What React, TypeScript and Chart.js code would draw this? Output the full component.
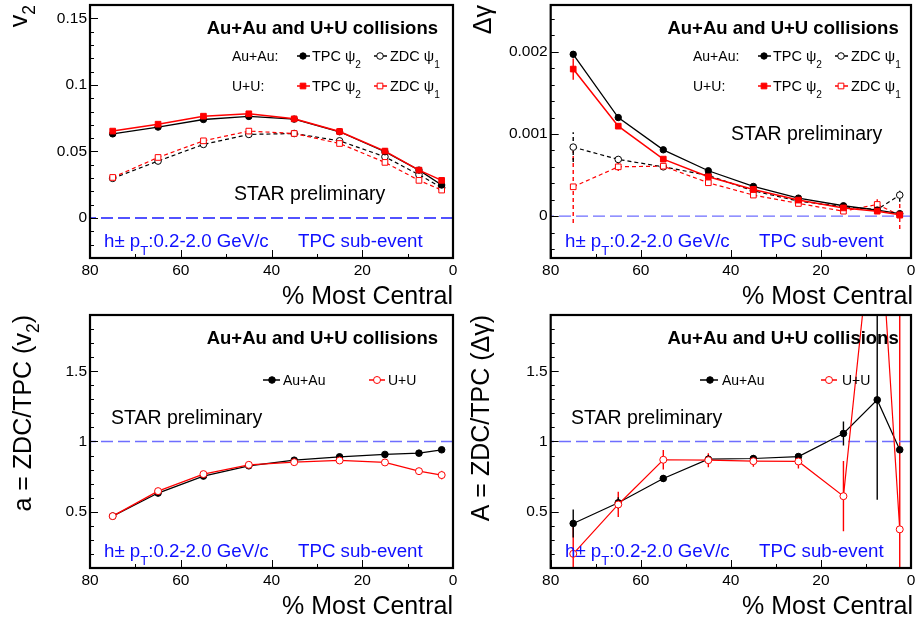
import { useEffect, useRef } from "react";
import { Chart, registerables } from "chart.js";

Chart.register(...registerables);

const FONT = "'Liberation Sans', Arial, Helvetica, sans-serif";

// ---------------- data ----------------
const centrality = [75, 65, 55, 45, 35, 25, 15, 7.5, 2.5];
const xTicks = [0, 20, 40, 60, 80];
const xTickLabels = ["0", "20", "40", "60", "80"];
const xMinorTicks = [10, 30, 50, 70];

// v2
const v2AuTPC = [0.0632, 0.0683, 0.074, 0.0763, 0.0743, 0.0648, 0.0498, 0.036, 0.0248];
const v2UTPC = [0.0653, 0.0705, 0.0765, 0.0783, 0.0745, 0.065, 0.0503, 0.036, 0.0283];
const v2AuZDC = [0.0298, 0.0428, 0.0553, 0.0628, 0.0635, 0.058, 0.046, 0.0325, 0.0228];
const v2UZDC = [0.0305, 0.0455, 0.058, 0.0653, 0.0635, 0.056, 0.0418, 0.0283, 0.021];
const v2AuTPCErr = [0.0003, 0.0003, 0.0003, 0.0003, 0.0003, 0.0003, 0.0003, 0.0003, 0.0003];
const v2UTPCErr = [0.0004, 0.0004, 0.0004, 0.0004, 0.0004, 0.0004, 0.0004, 0.0004, 0.0004];
const v2AuZDCErr = [0.0006, 0.0006, 0.0005, 0.0005, 0.0005, 0.0005, 0.0005, 0.0006, 0.0008];
const v2UZDCErr = [0.0007, 0.0007, 0.0006, 0.0006, 0.0006, 0.0006, 0.0006, 0.0008, 0.001];
const v2Ticks = [0, 0.05, 0.1, 0.15];
const v2TickLabels = ["0", "0.05", "0.1", "0.15"];

// delta gamma
const dgAuTPC = [0.00197, 0.0012, 0.000807, 0.000552, 0.000361, 0.000219, 0.000126, 0.000073, 0.00003];
const dgUTPC = [0.00179, 0.001095, 0.000694, 0.000479, 0.000325, 0.000195, 0.0001, 0.00006, 0.000016];
const dgAuZDC = [0.00084, 0.00069, 0.0006, 0.000495, 0.000308, 0.000183, 0.000114, 0.00008, 0.000256];
const dgUZDC = [0.000357, 0.0006, 0.000608, 0.000406, 0.000256, 0.000154, 0.00006, 0.000142, 0.000012];
const dgAuTPCErr = [0.00004, 0.00002, 0.00001, 0.00001, 0.00001, 0.00001, 0.00001, 0.00001, 0.00002];
const dgUTPCErr = [0.00013, 0.00003, 0.00002, 0.00002, 0.00001, 0.00001, 0.00001, 0.00002, 0.00003];
const dgAuZDCErr = [0.00018, 0.00004, 0.00002, 0.00002, 0.00002, 0.00002, 0.00002, 0.00003, 0.00008];
const dgUZDCErr = [0.00044, 0.00005, 0.00002, 0.00002, 0.00002, 0.00002, 0.00002, 0.00007, 0.00017];
const dgTicks = [0, 0.001, 0.002];
const dgTickLabels = ["0", "0.001", "0.002"];

// a = ZDC/TPC (v2)
const aAu = [0.469, 0.633, 0.754, 0.827, 0.867, 0.891, 0.908, 0.917, 0.941];
const aU = [0.469, 0.647, 0.768, 0.834, 0.853, 0.865, 0.851, 0.789, 0.761];
const aAuErr = [0.008, 0.008, 0.006, 0.005, 0.005, 0.005, 0.006, 0.008, 0.01];
const aUErr = [0.01, 0.01, 0.008, 0.007, 0.007, 0.008, 0.01, 0.015, 0.03];

// A = ZDC/TPC (delta gamma)
const bigAAu = [0.417, 0.564, 0.737, 0.874, 0.879, 0.893, 1.057, 1.296, 0.941];
const bigAU = [0.201, 0.552, 0.87, 0.867, 0.86, 0.858, 0.611, 2.9, 0.375];
const bigAAuErr = [0.1, 0.04, 0.025, 0.03, 0.025, 0.02, 0.085, 0.71, 0.01];
const bigAUErr = [0.22, 0.09, 0.07, 0.05, 0.04, 0.05, 0.25, 0.8, 2.2];

const ratioTicks = [0.5, 1, 1.5];
const ratioTickLabels = ["0.5", "1", "1.5"];

// ---------------- styles ----------------
type Shape = "circle" | "rect";
interface SeriesStyle {
  color: string;
  filled: boolean;
  shape: Shape;
  dashed: boolean;
  width: number;
  radius: number;
}
const RED = "#ff0000";
const BLACK = "#000000";
const DASH = [4, 3];
const styleAuTPC: SeriesStyle = { color: BLACK, filled: true, shape: "circle", dashed: false, width: 1.3, radius: 3.2 };
const styleUTPC: SeriesStyle = { color: RED, filled: true, shape: "rect", dashed: false, width: 1.5, radius: 4 };
const styleAuZDC: SeriesStyle = { color: BLACK, filled: false, shape: "circle", dashed: true, width: 1.2, radius: 3.3 };
const styleUZDC: SeriesStyle = { color: RED, filled: false, shape: "rect", dashed: true, width: 1.2, radius: 4 };
const styleAuRatio: SeriesStyle = { color: BLACK, filled: true, shape: "circle", dashed: false, width: 1.2, radius: 3.3 };
const styleURatio: SeriesStyle = { color: RED, filled: false, shape: "circle", dashed: false, width: 1.2, radius: 3.5 };

interface Part {
  t: string;
  sub?: boolean;
}
interface TextItem {
  parts: Part[];
  x: number;
  y: number;
  size: number;
  color: string;
  bold?: boolean;
  align: "left" | "right";
  subDy?: number;
}
interface LegendItem {
  x1: number;
  x2: number;
  mx: number;
  y: number;
  style: SeriesStyle;
}
interface SeriesDef {
  values: number[];
  errors: number[];
  style: SeriesStyle;
}
interface PanelCfg {
  left: number;
  top: number;
  axisWidth: number;
  padRight: number;
  yMin: number;
  yMax: number;
  yTicks: number[];
  yTickLabels: string[];
  yMinor: number;
  refY: number;
  refColor: string;
  series: SeriesDef[];
  texts: TextItem[];
  legend: LegendItem[];
  yTitle: Part[];
  yTitleX: number;
  yTitleSize: number;
  yTitleSubDy: number;
}

const W = 458;
const H = 310;
const BLUE = "#1010ff";

function topLegendTexts(o: number): TextItem[] {
  // o: offset adjustments for right panels
  return [
    { parts: [{ t: "Au+Au:" }], x: 232 + o, y: 61, size: 14, color: BLACK, align: "left" },
    { parts: [{ t: "U+U:" }], x: 232 + o, y: 91, size: 14, color: BLACK, align: "left" },
    { parts: [{ t: "TPC ψ" }, { t: "2", sub: true }], x: 312 + o, y: 61, size: 14.5, color: BLACK, align: "left", subDy: 0.5 },
    { parts: [{ t: "ZDC ψ" }, { t: "1", sub: true }], x: 390 + o, y: 61, size: 14.5, color: BLACK, align: "left", subDy: 0.5 },
    { parts: [{ t: "TPC ψ" }, { t: "2", sub: true }], x: 312 + o, y: 91, size: 14.5, color: BLACK, align: "left", subDy: 0.5 },
    { parts: [{ t: "ZDC ψ" }, { t: "1", sub: true }], x: 390 + o, y: 91, size: 14.5, color: BLACK, align: "left", subDy: 0.5 },
  ];
}
function topLegend(o: number): LegendItem[] {
  return [
    { x1: 297 + o, x2: 310 + o, mx: 303 + o, y: 56, style: styleAuTPC },
    { x1: 374 + o, x2: 387 + o, mx: 380 + o, y: 56, style: styleAuZDC },
    { x1: 297 + o, x2: 310 + o, mx: 303 + o, y: 86, style: styleUTPC },
    { x1: 374 + o, x2: 387 + o, mx: 380 + o, y: 86, style: styleUZDC },
  ];
}
function commonTexts(o: number, titleRight: number): TextItem[] {
  return [
    { parts: [{ t: "Au+Au and U+U collisions" }], x: titleRight, y: 33.5, size: 18.5, color: BLACK, bold: true, align: "right" },
    { parts: [{ t: "h± p" }, { t: "T", sub: true }, { t: ":0.2-2.0 GeV/c" }], x: 104 + o, y: 246.5, size: 18.7, color: BLUE, align: "left", subDy: 0.48 },
    { parts: [{ t: "TPC sub-event" }], x: 298 + o, y: 246.5, size: 18.7, color: BLUE, align: "left" },
  ];
}
function xTitle(right: number): TextItem {
  return { parts: [{ t: "% Most Central" }], x: right, y: 304, size: 25, color: BLACK, align: "right" };
}

const panels: PanelCfg[] = [
  {
    left: 0,
    top: 0,
    axisWidth: 90,
    padRight: 5,
    yMin: -0.03,
    yMax: 0.16,
    yTicks: v2Ticks,
    yTickLabels: v2TickLabels,
    yMinor: 0.01,
    refY: 0,
    refColor: "#1a1aff",
    series: [
      { values: v2UTPC, errors: v2UTPCErr, style: styleUTPC },
      { values: v2AuTPC, errors: v2AuTPCErr, style: styleAuTPC },
      { values: v2UZDC, errors: v2UZDCErr, style: styleUZDC },
      { values: v2AuZDC, errors: v2AuZDCErr, style: styleAuZDC },
    ],
    texts: [
      ...commonTexts(0, 438),
      ...topLegendTexts(0),
      { parts: [{ t: "STAR preliminary" }], x: 234, y: 200, size: 19.5, color: BLACK, align: "left" },
      xTitle(453),
    ],
    legend: topLegend(0),
    yTitle: [{ t: "v" }, { t: "2", sub: true }],
    yTitleX: 27,
    yTitleSize: 25,
    yTitleSubDy: 0.32,
  },
  {
    left: 458,
    top: 0,
    axisWidth: 92.7,
    padRight: 3,
    yMin: -0.00051,
    yMax: 0.00257,
    yTicks: dgTicks,
    yTickLabels: dgTickLabels,
    yMinor: 0.0002,
    refY: 0,
    refColor: "#6e6eff",
    series: [
      { values: dgUTPC, errors: dgUTPCErr, style: styleUTPC },
      { values: dgAuTPC, errors: dgAuTPCErr, style: styleAuTPC },
      { values: dgUZDC, errors: dgUZDCErr, style: styleUZDC },
      { values: dgAuZDC, errors: dgAuZDCErr, style: styleAuZDC },
    ],
    texts: [
      ...commonTexts(3, 440.7),
      ...topLegendTexts(3),
      { parts: [{ t: "STAR preliminary" }], x: 273, y: 140, size: 19.5, color: BLACK, align: "left" },
      xTitle(455),
    ],
    legend: topLegend(3),
    yTitle: [{ t: "Δγ" }],
    yTitleX: 33,
    yTitleSize: 25,
    yTitleSubDy: 0.32,
  },
  {
    left: 0,
    top: 310,
    axisWidth: 90,
    padRight: 5,
    yMin: 0.1,
    yMax: 1.9,
    yTicks: ratioTicks,
    yTickLabels: ratioTickLabels,
    yMinor: 0.1,
    refY: 1,
    refColor: "#6e6eff",
    series: [
      { values: aU, errors: aUErr, style: styleURatio },
      { values: aAu, errors: aAuErr, style: styleAuRatio },
    ],
    texts: [
      ...commonTexts(0, 438),
      { parts: [{ t: "Au+Au" }], x: 283, y: 75, size: 14, color: BLACK, align: "left" },
      { parts: [{ t: "U+U" }], x: 388, y: 75, size: 14, color: BLACK, align: "left" },
      { parts: [{ t: "STAR preliminary" }], x: 111, y: 114, size: 19.5, color: BLACK, align: "left" },
      xTitle(453),
    ],
    legend: [
      { x1: 263, x2: 280, mx: 272, y: 70, style: styleAuRatio },
      { x1: 369, x2: 385, mx: 377, y: 70, style: styleURatio },
    ],
    yTitle: [{ t: "a = ZDC/TPC (v" }, { t: "2", sub: true }, { t: ")" }],
    yTitleX: 31,
    yTitleSize: 25,
    yTitleSubDy: 0.3,
  },
  {
    left: 458,
    top: 310,
    axisWidth: 92.7,
    padRight: 3,
    yMin: 0.1,
    yMax: 1.9,
    yTicks: ratioTicks,
    yTickLabels: ratioTickLabels,
    yMinor: 0.1,
    refY: 1,
    refColor: "#6e6eff",
    series: [
      { values: bigAU, errors: bigAUErr, style: styleURatio },
      { values: bigAAu, errors: bigAAuErr, style: styleAuRatio },
    ],
    texts: [
      ...commonTexts(3, 440.7),
      { parts: [{ t: "Au+Au" }], x: 264, y: 75, size: 14, color: BLACK, align: "left" },
      { parts: [{ t: "U+U" }], x: 384, y: 75, size: 14, color: BLACK, align: "left" },
      { parts: [{ t: "STAR preliminary" }], x: 113, y: 114, size: 19.5, color: BLACK, align: "left" },
      xTitle(455),
    ],
    legend: [
      { x1: 242, x2: 260, mx: 252, y: 70, style: styleAuRatio },
      { x1: 363, x2: 379, mx: 371, y: 70, style: styleURatio },
    ],
    yTitle: [{ t: "A = ZDC/TPC (Δγ)" }],
    yTitleX: 31,
    yTitleSize: 25,
    yTitleSubDy: 0.3,
  },
];

// ---------------- drawing helpers ----------------
function drawParts(ctx: CanvasRenderingContext2D, item: TextItem) {
  const size = item.size;
  const subSize = size * 0.7;
  const w = item.bold ? "bold " : "";
  const fMain = `${w}${size}px ${FONT}`;
  const fSub = `${w}${subSize}px ${FONT}`;
  let total = 0;
  for (const p of item.parts) {
    ctx.font = p.sub ? fSub : fMain;
    total += ctx.measureText(p.t).width;
  }
  let cx = item.align === "right" ? item.x - total : item.x;
  ctx.fillStyle = item.color;
  ctx.textAlign = "left";
  ctx.textBaseline = "alphabetic";
  const dy = (item.subDy ?? 0.4) * size;
  for (const p of item.parts) {
    ctx.font = p.sub ? fSub : fMain;
    ctx.fillText(p.t, cx, p.sub ? item.y + dy : item.y);
    cx += ctx.measureText(p.t).width;
  }
}

function drawMarker(ctx: CanvasRenderingContext2D, x: number, y: number, st: SeriesStyle) {
  ctx.save();
  ctx.setLineDash([]);
  ctx.lineWidth = 1;
  ctx.strokeStyle = st.color;
  ctx.fillStyle = st.filled ? st.color : "#ffffff";
  ctx.beginPath();
  if (st.shape === "circle") ctx.arc(x, y, st.radius, 0, Math.PI * 2);
  else {
    const h = st.radius * Math.SQRT1_2;
    ctx.rect(x - h, y - h, 2 * h, 2 * h);
  }
  ctx.fill();
  ctx.stroke();
  ctx.restore();
}

function makeDataset(s: SeriesDef) {
  const st = s.style;
  return {
    data: centrality.map((x, i) => ({ x, y: s.values[i] })),
    errors: s.errors,
    borderColor: st.color,
    borderWidth: st.width,
    borderDash: st.dashed ? DASH : [],
    backgroundColor: st.filled ? st.color : "#ffffff",
    pointStyle: st.shape,
    pointRadius: st.radius,
    pointBorderWidth: 1,
    pointBorderColor: st.color,
    pointBackgroundColor: st.filled ? st.color : "#ffffff",
    fill: false,
    tension: 0,
  };
}

function Panel({ cfg }: { cfg: PanelCfg }) {
  const ref = useRef<HTMLCanvasElement | null>(null);
  useEffect(() => {
    const canvas = ref.current;
    if (!canvas) return;

    const decor = {
      id: "rootDecor",
      beforeDatasetsDraw(chart: any) {
        const { ctx, chartArea } = chart;
        const xs = chart.scales.x;
        const ys = chart.scales.y;
        ctx.save();
        ctx.beginPath();
        ctx.rect(chartArea.left, chartArea.top, chartArea.right - chartArea.left, chartArea.bottom - chartArea.top);
        ctx.clip();
        chart.data.datasets.forEach((ds: any) => {
          if (!ds.errors) return;
          ctx.strokeStyle = ds.borderColor;
          ctx.lineWidth = 1.4;
          ctx.setLineDash(ds.borderDash || []);
          ds.data.forEach((p: any, i: number) => {
            const e = ds.errors[i];
            if (!e) return;
            const px = xs.getPixelForValue(p.x);
            ctx.beginPath();
            ctx.moveTo(px, ys.getPixelForValue(p.y - e));
            ctx.lineTo(px, ys.getPixelForValue(p.y + e));
            ctx.stroke();
          });
        });
        ctx.restore();
      },
      afterDraw(chart: any) {
        const { ctx, chartArea } = chart;
        const xs = chart.scales.x;
        const ys = chart.scales.y;
        const { left, right, top, bottom } = chartArea;
        ctx.save();
        ctx.setLineDash([]);
        ctx.strokeStyle = BLACK;
        // ticks (inward)
        ctx.lineWidth = 1;
        ctx.beginPath();
        cfg.yTicks.forEach((v) => {
          const py = Math.round(ys.getPixelForValue(v)) + 0.5;
          ctx.moveTo(left, py);
          ctx.lineTo(left + 8, py);
        });
        const n0 = Math.ceil(cfg.yMin / cfg.yMinor - 1e-6);
        const n1 = Math.floor(cfg.yMax / cfg.yMinor + 1e-6);
        for (let n = n0; n <= n1; n++) {
          const v = n * cfg.yMinor;
          const py = Math.round(ys.getPixelForValue(v)) + 0.5;
          ctx.moveTo(left, py);
          ctx.lineTo(left + 4, py);
        }
        xTicks.forEach((v) => {
          const px = Math.round(xs.getPixelForValue(v)) + 0.5;
          ctx.moveTo(px, bottom);
          ctx.lineTo(px, bottom - 8);
        });
        xMinorTicks.forEach((v) => {
          const px = Math.round(xs.getPixelForValue(v)) + 0.5;
          ctx.moveTo(px, bottom);
          ctx.lineTo(px, bottom - 4);
        });
        ctx.stroke();
        // frame
        ctx.lineWidth = 2.2;
        ctx.strokeRect(left, top, right - left, bottom - top);

        // legend
        cfg.legend.forEach((l) => {
          ctx.save();
          ctx.strokeStyle = l.style.color;
          ctx.lineWidth = 1.5;
          ctx.beginPath();
          ctx.moveTo(l.x1, l.y);
          ctx.lineTo(l.x2, l.y);
          ctx.stroke();
          ctx.restore();
          drawMarker(ctx, l.mx, l.y, l.style);
        });
        // texts
        cfg.texts.forEach((t) => drawParts(ctx, t));
        // y title (rotated)
        ctx.save();
        ctx.translate(cfg.yTitleX, top);
        ctx.rotate(-Math.PI / 2);
        drawParts(ctx, {
          parts: cfg.yTitle,
          x: 0,
          y: 0,
          size: cfg.yTitleSize,
          color: BLACK,
          align: "right",
          subDy: cfg.yTitleSubDy,
        });
        ctx.restore();
        ctx.restore();
      },
    };

    const datasets: any[] = cfg.series.map(makeDataset);
    datasets.push({
      data: [
        { x: 0, y: cfg.refY },
        { x: 80, y: cfg.refY },
      ],
      borderColor: cfg.refColor,
      borderWidth: 1.4,
      borderDash: [12, 5],
      pointRadius: 0,
      fill: false,
    });

    const chart = new Chart(canvas, {
      type: "line",
      data: { datasets },
      plugins: [decor],
      options: {
        animation: false,
        responsive: false,
        maintainAspectRatio: false,
        events: [],
        layout: { padding: { left: 0, right: cfg.padRight, top: 5, bottom: 0 } },
        plugins: { legend: { display: false }, tooltip: { enabled: false }, title: { display: false } },
        scales: {
          x: {
            type: "linear",
            min: 0,
            max: 80,
            reverse: true,
            grid: { display: false, drawTicks: false },
            border: { display: false },
            afterBuildTicks: (s: any) => {
              s.ticks = xTicks.map((v) => ({ value: v }));
            },
            afterFit: (s: any) => {
              s.height = 52;
              s.paddingLeft = 0;
              s.paddingRight = 0;
            },
            ticks: {
              autoSkip: false,
              maxRotation: 0,
              padding: 3,
              color: BLACK,
              font: { family: FONT, size: 15.5 },
              callback: (_v: any, i: number) => xTickLabels[i],
            },
          },
          y: {
            type: "linear",
            min: cfg.yMin,
            max: cfg.yMax,
            grid: { display: false, drawTicks: false },
            border: { display: false },
            afterBuildTicks: (s: any) => {
              s.ticks = cfg.yTicks.map((v) => ({ value: v }));
            },
            afterFit: (s: any) => {
              s.width = cfg.axisWidth;
              s.paddingTop = 0;
              s.paddingBottom = 0;
            },
            ticks: {
              autoSkip: false,
              padding: 3,
              color: BLACK,
              font: { family: FONT, size: 15.5 },
              callback: (_v: any, i: number) => cfg.yTickLabels[i],
            },
          },
        },
      } as any,
    });
    return () => chart.destroy();
  }, [cfg]);

  return (
    <canvas
      ref={ref}
      width={W}
      height={H}
      style={{ position: "absolute", left: cfg.left, top: cfg.top, width: W, height: H }}
    />
  );
}

export default function App() {
  return (
    <div
      style={{
        position: "absolute",
        left: 0,
        top: 0,
        width: 916,
        height: 621,
        background: "#ffffff",
        overflow: "hidden",
      }}
    >
      {panels.map((p, i) => (
        <Panel key={i} cfg={p} />
      ))}
    </div>
  );
}
